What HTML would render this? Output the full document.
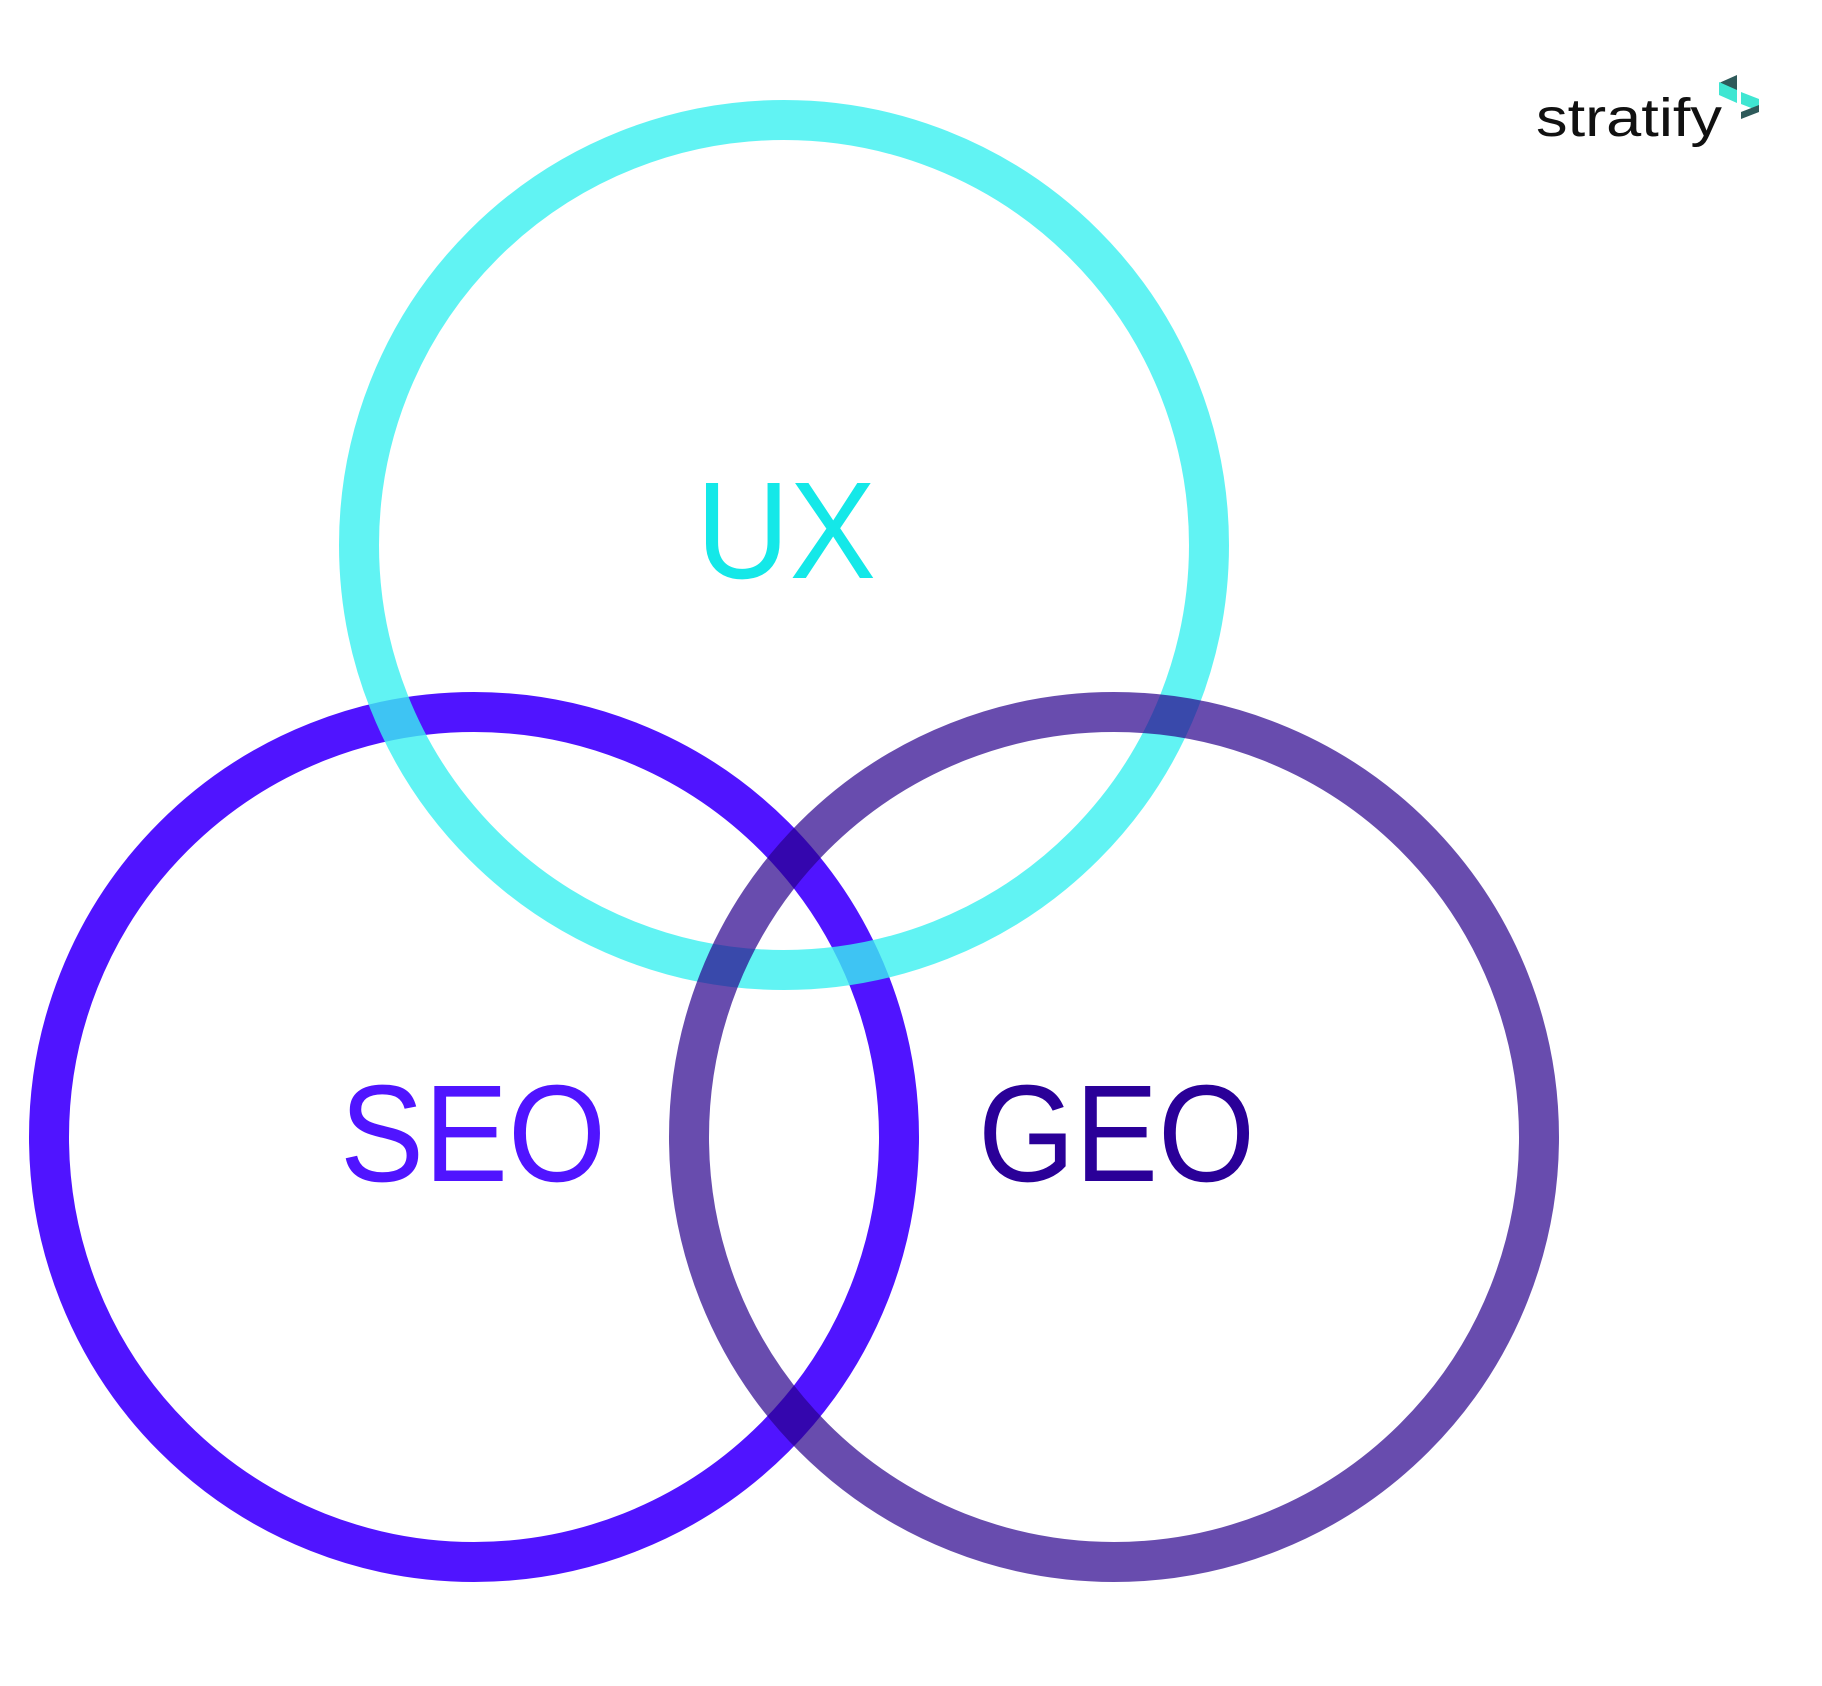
<!DOCTYPE html>
<html><head><meta charset="utf-8"><style>
html,body{margin:0;padding:0;background:#fff;width:1822px;height:1686px;overflow:hidden}
svg{display:block}
</style></head><body>
<svg width="1822" height="1686" viewBox="0 0 1822 1686" xmlns="http://www.w3.org/2000/svg">
<rect width="1822" height="1686" fill="#fff"/>
<circle cx="474" cy="1137" r="425" fill="none" stroke="#5014FF" stroke-width="40"/>
<circle cx="784" cy="545" r="425" fill="none" stroke="rgb(57,240,240)" stroke-opacity="0.8" stroke-width="40"/>
<circle cx="1114" cy="1137" r="425" fill="none" stroke="rgb(40,0,140)" stroke-opacity="0.7" stroke-width="40"/>
<g font-family="Liberation Sans, sans-serif" font-size="138">
<text x="696" y="578" fill="#14E8E8" textLength="180" lengthAdjust="spacingAndGlyphs">UX</text>
<text x="340" y="1181" fill="#5014FF" textLength="266" lengthAdjust="spacingAndGlyphs">SEO</text>
<text x="978" y="1181" fill="#2A0098" textLength="277" lengthAdjust="spacingAndGlyphs">GEO</text>
</g>
<text x="1536" y="136" font-family="Liberation Sans, sans-serif" font-size="54" fill="#111" textLength="186" lengthAdjust="spacingAndGlyphs">stratify</text>
<g transform="translate(-8,0)">
<polygon points="1727,83 1745,75 1745,90 1727,90" fill="#2E5A5A"/>
<polygon points="1727,82 1745,90 1745,103 1727,95" fill="#3FE6D2"/>
<polygon points="1749,92 1767,99 1767,111 1749,104" fill="#3FE6D2"/>
<polygon points="1749,112 1767,105 1767,112 1749,119" fill="#2E5A5A"/>
</g>
</svg>
</body></html>
